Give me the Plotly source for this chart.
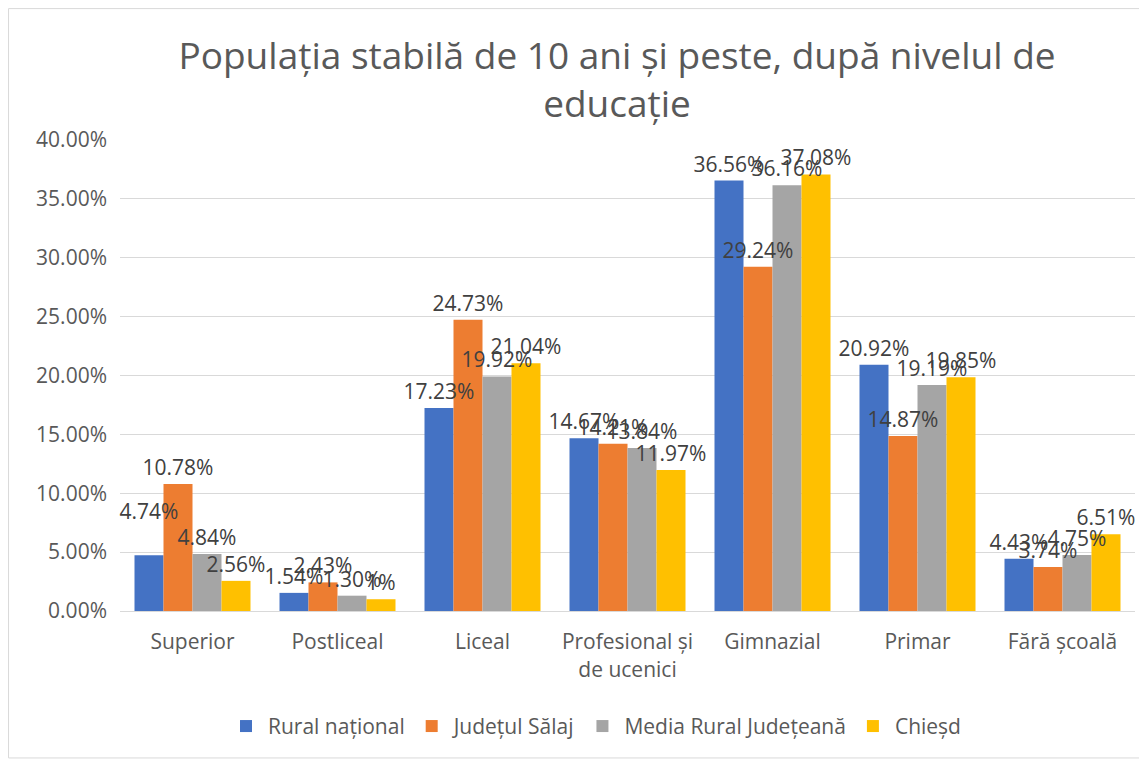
import plotly.graph_objects as go

categories = ["Superior", "Postliceal", "Liceal", "Profesional și<br>de ucenici",
              "Gimnazial", "Primar", "Fără școală"]
series_names = ["Rural național", "Județul Sălaj", "Media Rural Județeană", "Chieșd"]
rural_national = [4.74, 1.54, 17.23, 14.67, 36.56, 20.92, 4.43]
judetul_salaj = [10.78, 2.43, 24.73, 14.21, 29.24, 14.87, 3.74]
media_rural_judeteana = [4.84, 1.30, 19.92, 13.84, 36.16, 19.19, 4.75]
chiesd = [2.56, 1.00, 21.04, 11.97, 37.08, 19.85, 6.51]
chiesd_labels = ["2.56%", "1%", "21.04%", "11.97%", "37.08%", "19.85%", "6.51%"]
y_ticks = [0, 5, 10, 15, 20, 25, 30, 35, 40]

colors = ["#4472C4", "#ED7D31", "#A5A5A5", "#FFC000"]
FONT = "Open Sans"
SIZE = 21

all_series = [rural_national, judetul_salaj, media_rural_judeteana, chiesd]

fig = go.Figure()
# coloured bars
for i, (name, vals) in enumerate(zip(series_names, all_series)):
    fig.add_trace(go.Bar(
        name=name, x=categories, y=vals, marker_color=colors[i],
        marker_line_width=0, offsetgroup=str(i),
        hovertemplate="%{x}: %{y:.2f}%<extra>" + name + "</extra>",
    ))
# transparent overlay bars carrying the data labels (drawn above all bars)
for i, (name, vals) in enumerate(zip(series_names, all_series)):
    if name == "Chieșd":
        labels = list(chiesd_labels)
    else:
        labels = [f"{v:.2f}%" for v in vals]
    if i == 0:
        # the reference shows this label lifted one line above its bar
        labels[0] = labels[0] + "<br>\u00a0"
    fig.add_trace(go.Bar(
        name=name, x=categories, y=vals, offsetgroup=str(i),
        marker_color="rgba(0,0,0,0)", marker_line_width=0,
        text=labels, textposition="outside", constraintext="none",
        textfont=dict(family=FONT, size=SIZE, color="#404040"),
        cliponaxis=False, showlegend=False, hoverinfo="skip",
    ))

fig.update_layout(
    width=1139, height=753,
    paper_bgcolor="white", plot_bgcolor="white",
    margin=dict(l=112, r=12, t=132, b=150, autoexpand=False),
    barmode="group", bargap=0.2, bargroupgap=0,
    font=dict(family=FONT, color="#595959"),
    title=dict(
        text="Populația stabilă de 10 ani și peste, după nivelul de<br>educație",
        x=0.5347, xanchor="center", y=0.9185, yanchor="middle",
        font=dict(family=FONT, size=37, color="#595959"),
    ),
    xaxis=dict(
        showgrid=False, showline=True, linecolor="#D9D9D9", linewidth=1,
        tickfont=dict(family=FONT, size=SIZE, color="#595959"),
        ticks="", automargin=False, ticklabelstandoff=12,
    ),
    yaxis=dict(
        range=[0, 40], tickvals=y_ticks,
        ticktext=[f"{t:.2f}%" for t in y_ticks],
        showgrid=True, gridcolor="#D9D9D9", gridwidth=1,
        zeroline=False, showline=False, ticks="",
        tickfont=dict(family=FONT, size=SIZE, color="#595959"),
        ticklabelstandoff=12, automargin=False,
    ),
    legend=dict(
        orientation="h", x=0.468, xanchor="center", y=-0.245, yanchor="middle",
        font=dict(family=FONT, size=SIZE, color="#595959"),
        traceorder="normal", itemwidth=34,
    ),
    showlegend=True,
)

fig.add_shape(type="rect", xref="paper", yref="paper",
              x0=-0.1098, x1=1.0099, y0=-0.312, y1=1.279,
              line=dict(color="#D9D9D9", width=1), fillcolor="rgba(0,0,0,0)",
              layer="below")

fig.write_html("out.html")
